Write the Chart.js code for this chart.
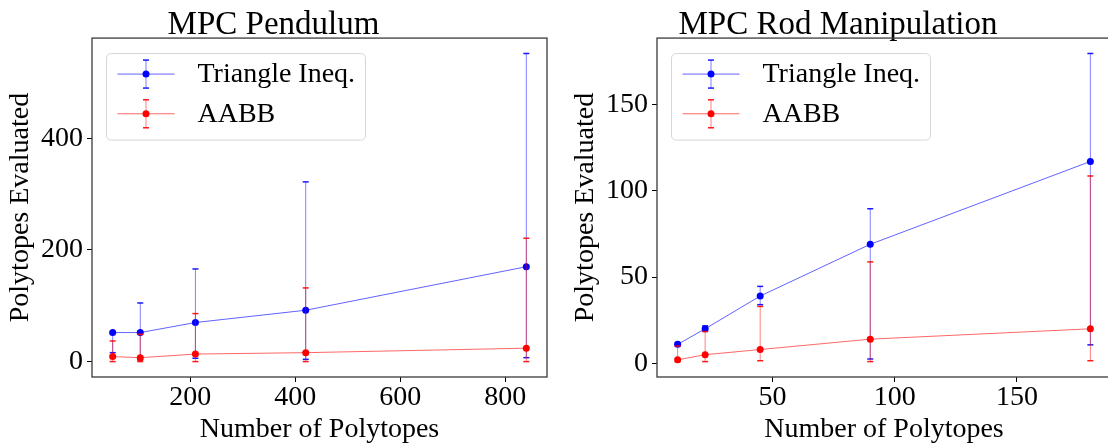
<!DOCTYPE html>
<html><head><meta charset="utf-8">
<script src="https://cdn.jsdelivr.net/npm/chart.js@4"></script>
<style>
html,body{margin:0;padding:0;background:#fff;overflow:hidden;width:1108px;height:447px;position:relative}
.wrap{position:absolute;top:0;height:447px;overflow:hidden}
canvas{position:absolute;top:0;left:0}
</style></head><body>
<div class="wrap" style="left:0px;width:565px"><canvas id="c1" width="639" height="447"></canvas></div>
<div class="wrap" style="left:565px;width:543px"><canvas id="c2" width="651" height="447"></canvas></div>
<script>
// ---------- data ----------
const seriesLabels = ['Triangle Ineq.', 'AABB'];
const plotTitles = ['MPC Pendulum', 'MPC Rod Manipulation'];
const xAxisLabel = 'Number of Polytopes';
const yAxisLabel = 'Polytopes Evaluated';

const pendulumPolytopes = [52.5, 105, 210, 420, 840];
const pendulumTriangle = [52, 52, 70, 92, 170];
const pendulumTriangleLow = [16, 3, 6, 4, 7];
const pendulumTriangleHigh = [52, 105, 166, 322, 552];
const pendulumAABB = [9, 7, 13.5, 16, 24];
const pendulumAABBLow = [0, 0, 0, 0, 0];
const pendulumAABBHigh = [37, 49, 86, 132, 221];
const pendulumXTicks = [200, 400, 600, 800];
const pendulumYTicks = [0, 200, 400];

const rodPolytopes = [11.25, 22.5, 45, 90, 180];
const rodTriangle = [11, 20, 39, 69, 117];
const rodTriangleLow = [10, 19, 34, 2.5, 10.7];
const rodTriangleHigh = [12, 21.7, 44.6, 89.6, 179.6];
const rodAABB = [2, 5, 8, 14, 20];
const rodAABBLow = [1, 1, 1.5, 1, 1.5];
const rodAABBHigh = [10, 18.4, 33, 58.8, 108.6];
const rodXTicks = [50, 100, 150];
const rodYTicks = [0, 50, 100, 150];

// ---------- styling ----------
const FONT = '"Liberation Serif", "Times New Roman", serif';
const BLUE = {line: 'rgba(0,0,255,0.62)', err: 'rgba(0,0,255,0.5)', cap: 'rgba(0,0,255,0.9)', point: '#0000ff'};
const RED = {line: 'rgba(255,0,0,0.6)', err: 'rgba(255,0,0,0.5)', cap: 'rgba(255,0,0,0.9)', point: '#ff0000'};

const errorBarPlugin = {
  id: 'errorBars',
  beforeDatasetDraw(chart, args) {
    const ds = chart.data.datasets[args.index];
    if (!ds.errLow) return;
    const xs = chart.scales.x, ys = chart.scales.y, ctx = chart.ctx;
    ctx.save();
    ds.data.forEach((p, i) => {
      const px = xs.getPixelForValue(p.x);
      const pl = ys.getPixelForValue(ds.errLow[i]);
      const ph = ys.getPixelForValue(ds.errHigh[i]);
      ctx.strokeStyle = ds.errColor; ctx.lineWidth = 1;
      ctx.beginPath(); ctx.moveTo(px, pl); ctx.lineTo(px, ph); ctx.stroke();
      ctx.strokeStyle = ds.capColor; ctx.lineWidth = 1.5;
      [pl, ph].forEach(y => { ctx.beginPath(); ctx.moveTo(px - 3, y); ctx.lineTo(px + 3, y); ctx.stroke(); });
    });
    ctx.restore();
  }
};

const framePlugin = {
  id: 'frame',
  afterDatasetsDraw(chart) {
    const a = chart.chartArea, ctx = chart.ctx;
    ctx.save();
    ctx.strokeStyle = '#3a3a3a'; ctx.lineWidth = 1.3;
    ctx.strokeRect(a.left, a.top, a.right - a.left, a.bottom - a.top);
    ctx.restore();
  }
};

const legendPlugin = {
  id: 'errLegend',
  afterDraw(chart) {
    const ctx = chart.ctx, a = chart.chartArea;
    const bx = a.left + 14.5, by = a.top + 15.5, bw = 259, bh = 86.5, r = 5;
    ctx.save();
    ctx.beginPath();
    ctx.moveTo(bx + r, by); ctx.lineTo(bx + bw - r, by); ctx.quadraticCurveTo(bx + bw, by, bx + bw, by + r);
    ctx.lineTo(bx + bw, by + bh - r); ctx.quadraticCurveTo(bx + bw, by + bh, bx + bw - r, by + bh);
    ctx.lineTo(bx + r, by + bh); ctx.quadraticCurveTo(bx, by + bh, bx, by + bh - r);
    ctx.lineTo(bx, by + r); ctx.quadraticCurveTo(bx, by, bx + r, by);
    ctx.closePath();
    ctx.fillStyle = 'rgba(255,255,255,0.85)'; ctx.fill();
    ctx.strokeStyle = '#d6d6d6'; ctx.lineWidth = 1; ctx.stroke();
    const items = chart.data.datasets.slice().sort((p, q) => p.legendIndex - q.legendIndex);
    items.forEach((ds, i) => {
      const cy = by + 20.5 + i * 39.7;
      const mx = bx + 39.5;
      ctx.strokeStyle = ds.borderColor; ctx.lineWidth = 1;
      ctx.beginPath(); ctx.moveTo(bx + 11, cy); ctx.lineTo(bx + 68, cy); ctx.stroke();
      ctx.strokeStyle = ds.errColor;
      ctx.beginPath(); ctx.moveTo(mx, cy - 14); ctx.lineTo(mx, cy + 14); ctx.stroke();
      ctx.strokeStyle = ds.capColor; ctx.lineWidth = 1.5;
      [cy - 14, cy + 14].forEach(y => { ctx.beginPath(); ctx.moveTo(mx - 3, y); ctx.lineTo(mx + 3, y); ctx.stroke(); });
      ctx.fillStyle = ds.pointBackgroundColor;
      ctx.beginPath(); ctx.arc(mx, cy, 3.5, 0, Math.PI * 2); ctx.fill();
      ctx.fillStyle = '#000'; ctx.font = '28px ' + FONT; ctx.textBaseline = 'middle'; ctx.textAlign = 'left';
      ctx.fillText(ds.label, bx + 91, cy + 1);
    });
    ctx.restore();
  }
};

function limits(lo, hi) { const m = (hi - lo) * 0.05; return [lo - m, hi + m]; }

function makeChart(id, opts) {
  const xr = limits(Math.min(...opts.x), Math.max(...opts.x));
  const yr = limits(Math.min(...opts.s1Low, ...opts.s2Low), Math.max(...opts.s1High, ...opts.s2High));
  const mk = (label, vals, lo, hi, col, order, li) => ({
    label, data: opts.x.map((x, i) => ({x, y: vals[i]})),
    errLow: lo, errHigh: hi, errColor: col.err, capColor: col.cap,
    borderColor: col.line, borderWidth: 1, pointBackgroundColor: col.point, pointBorderWidth: 0,
    pointRadius: 3.5, pointHoverRadius: 3.5, fill: false, tension: 0, order, legendIndex: li
  });
  const tickFont = {family: FONT, size: 28, lineHeight: 1};
  return new Chart(document.getElementById(id), {
    type: 'line',
    data: {datasets: [
      mk(seriesLabels[0], opts.s1, opts.s1Low, opts.s1High, BLUE, 2, 0),
      mk(seriesLabels[1], opts.s2, opts.s2Low, opts.s2High, RED, 1, 1)
    ]},
    options: {
      responsive: false, animation: false, devicePixelRatio: 1,
      layout: {padding: {left: 0, right: opts.padRight, top: 0, bottom: 0}},
      plugins: {
        legend: {display: false}, tooltip: {enabled: false},
        title: {display: true, text: opts.title, color: '#000',
          font: {family: FONT, size: 33, weight: 'normal', lineHeight: 0.76},
          padding: {top: 13, bottom: 0}}
      },
      scales: {
        x: {type: 'linear', min: xr[0], max: xr[1],
          afterBuildTicks: s => { s.ticks = opts.xTicks.map(v => ({value: v})); },
          afterFit: s => { s.height = 70; },
          ticks: {font: tickFont, color: '#000', padding: 2, maxRotation: 0, autoSkip: false},
          grid: {display: true, drawOnChartArea: false, drawTicks: true, tickLength: 5, tickColor: '#000', tickWidth: 1},
          border: {display: false},
          title: {display: true, text: xAxisLabel, color: '#000', font: tickFont, padding: {top: 0, bottom: 3}}
        },
        y: {type: 'linear', min: yr[0], max: yr[1],
          afterBuildTicks: s => { s.ticks = opts.yTicks.map(v => ({value: v})); },
          afterFit: s => { s.width = 92; },
          ticks: {font: tickFont, color: '#000', padding: 4, autoSkip: false},
          grid: {display: true, drawOnChartArea: false, drawTicks: true, tickLength: 5, tickColor: '#000', tickWidth: 1},
          border: {display: false},
          title: {display: true, text: yAxisLabel, color: '#000', font: tickFont, padding: {top: 7, bottom: 0}}
        }
      }
    },
    plugins: [errorBarPlugin, framePlugin, legendPlugin]
  });
}

makeChart('c1', {
  title: plotTitles[0], x: pendulumPolytopes,
  s1: pendulumTriangle, s1Low: pendulumTriangleLow, s1High: pendulumTriangleHigh,
  s2: pendulumAABB, s2Low: pendulumAABBLow, s2High: pendulumAABBHigh,
  xTicks: pendulumXTicks, yTicks: pendulumYTicks, padRight: 92
});
makeChart('c2', {
  title: plotTitles[1], x: rodPolytopes,
  s1: rodTriangle, s1Low: rodTriangleLow, s1High: rodTriangleHigh,
  s2: rodAABB, s2Low: rodAABBLow, s2High: rodAABBHigh,
  xTicks: rodXTicks, yTicks: rodYTicks, padRight: 105
});
</script>
</body></html>
